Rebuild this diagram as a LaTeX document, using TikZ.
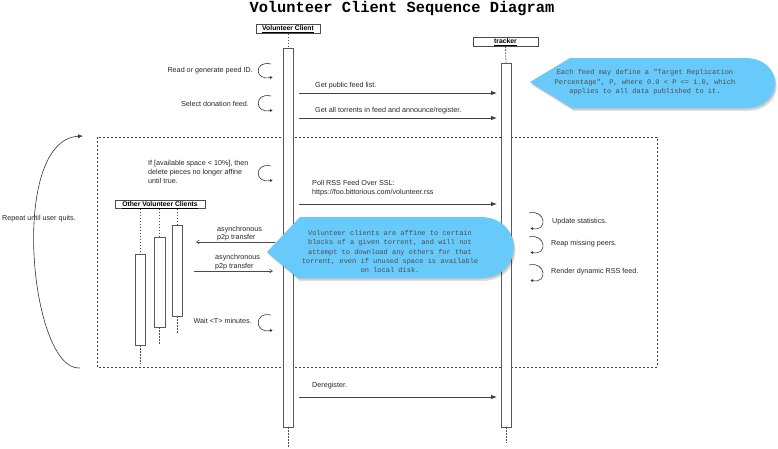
\documentclass[tikz,border=0pt]{standalone}
\usepackage{fontspec}
\setmainfont{Liberation Sans}
\newfontfamily\cmono{Liberation Mono}
\usetikzlibrary{arrows.meta}
\definecolor{calloutblue}{RGB}{104,202,250}
\begin{document}
\begin{tikzpicture}[x=1pt,y=-1pt,
  lbl/.style={font=\fontsize{7.2}{8.6}\selectfont, inner sep=0pt, text=black!85},
  headbox/.style={draw=black!70, line width=0.8pt, fill=white, inner sep=0pt, text height=5.5pt, text depth=2pt, font=\fontsize{6.8}{7}\selectfont\bfseries},
  actbox/.style={draw=black!65, line width=0.9pt, fill=white, inner sep=0pt, minimum width=10pt},
  lifeline/.style={draw=black!70, line width=0.8pt, dash pattern=on 1.5pt off 1.5pt},
  msg/.style={draw=black!75, line width=0.8pt, -{Latex[length=6pt,width=4.5pt]}},
  async/.style={draw=black!70, line width=0.5pt, -{Straight Barb[length=3pt,width=4pt]}},
  selfloop/.style={draw=black!80, line width=0.6pt, -{Latex[length=3pt,width=3pt]}},
  frame/.style={draw=black!75, line width=0.6pt, dash pattern=on 2pt off 2pt},
  callout/.style={fill=calloutblue},
  shadowfill/.style={fill=black, opacity=0.12},
  ctext/.style={font=\cmono\fontsize{7}{9.4}\selectfont, text=black!70, align=center, inner sep=0pt},
  repeatarrow/.style={draw=black!80, line width=0.6pt, -{Latex[length=5pt,width=4pt]}},
]
\useasboundingbox (0,0) rectangle (778,448);

% title
\node[font=\cmono\bfseries\fontsize{15.4}{16}\selectfont, inner sep=0pt] (title) at (402,9) {Volunteer Client Sequence Diagram};

% loop frame
\draw[frame] (97,137) rectangle (657,367);

% heads
\node[headbox, minimum width=64pt, minimum height=8.5pt] (vc) at (288,29) {\underline{Volunteer Client}};
\node[headbox, minimum width=65pt, minimum height=9pt] (tr) at (505.5,41.5) {\underline{tracker}};
\node[headbox, minimum width=90pt, minimum height=7.5pt] (ovc) at (160,204.5) {\underline{Other Volunteer Clients}};

% activation boxes
\node[actbox, minimum height=379pt] (vcA) at (288,237.5) {};
\node[actbox, minimum height=364pt] (trA) at (506,245) {};
\node[actbox, minimum height=91pt] (o1A) at (140,299.5) {};
\node[actbox, minimum height=90pt, minimum width=11pt] (o2A) at (159.5,282) {};
\node[actbox, minimum height=91pt] (o3A) at (177,270.5) {};

% lifelines
\draw[lifeline] (vc.south) -- (vcA.north);
\draw[lifeline] (vcA.south) -- ++(0,21);
\draw[lifeline] (tr.south) -- (trA.north);
\draw[lifeline] (trA.south) -- ++(0,16);
\draw[lifeline] (o1A.north |- ovc.south) -- (o1A.north);
\draw[lifeline] (o2A.north |- ovc.south) -- (o2A.north);
\draw[lifeline] (o3A.north |- ovc.south) -- (o3A.north);
\draw[lifeline] (o1A.south) -- ++(0,19);
\draw[lifeline] (o2A.south) -- ++(0,18);
\draw[lifeline] (o3A.south) -- ++(0,17);

% messages
\coordinate (m1s) at (299,93);  \coordinate (m1e) at (497,93);
\coordinate (m2s) at (299,118); \coordinate (m2e) at (497,118);
\coordinate (m3s) at (299,204); \coordinate (m3e) at (497,204);
\coordinate (m4s) at (299,397); \coordinate (m4e) at (497,397);
\draw[msg] (m1s) -- (m1e);
\draw[msg] (m2s) -- (m2e);
\draw[msg] (m3s) -- (m3e);
\draw[msg] (m4s) -- (m4e);
\node[lbl, anchor=west] (m1l) at (315,86) {Get public feed list.};
\node[lbl, anchor=west] (m2l) at (315,111) {Get all torrents in feed and announce/register.};
\node[lbl, anchor=west, align=left] (m3l) at (312,188) {Poll RSS Feed Over SSL:\\https://foo.bittorious.com/volunteer.rss};
\node[lbl, anchor=west] (m4l) at (312,386) {Deregister.};

% async transfers
\coordinate (a1s) at (275,242); \coordinate (a1e) at (196,242);
\coordinate (a2s) at (194,271); \coordinate (a2e) at (273,271);
\draw[async] (a1s) -- (a1e);
\draw[async] (a2s) -- (a2e);
\node[lbl, anchor=west, align=left] (a1l) at (217,233.5) {asynchronous\\p2p transfer};
\node[lbl, anchor=west, align=left] (a2l) at (215,262) {asynchronous\\p2p transfer};

% client self loops
\coordinate (l1s) at (271,64);  \coordinate (l1e) at (273,77);
\coordinate (l2s) at (271,96);  \coordinate (l2e) at (273,110);
\coordinate (l3s) at (271,166); \coordinate (l3e) at (273,180);
\coordinate (l4s) at (271,315); \coordinate (l4e) at (273,330);
\draw[selfloop] (l1s) .. controls +(-17,-4) and +(-19,4) .. (l1e);
\draw[selfloop] (l2s) .. controls +(-17,-4) and +(-19,4) .. (l2e);
\draw[selfloop] (l3s) .. controls +(-17,-4) and +(-19,4) .. (l3e);
\draw[selfloop] (l4s) .. controls +(-17,-4) and +(-19,4) .. (l4e);
\node[lbl, anchor=east] (l1l) at (253,71) {Read or generate peed ID.};
\node[lbl, anchor=east] (l2l) at (249,104) {Select donation feed.};
\node[lbl, anchor=west, align=left] (l3l) at (148,172) {If [available space < 10\%], then\\delete pieces no longer affine\\until true.};
\node[lbl, anchor=east] (l4l) at (252,321) {Wait <T> minutes.};

% tracker self loops
\coordinate (t1s) at (529,213); \coordinate (t1e) at (530,228);
\coordinate (t2s) at (529,237); \coordinate (t2e) at (530,252);
\coordinate (t3s) at (529,265); \coordinate (t3e) at (530,280);
\draw[selfloop] (t1s) .. controls +(17,-4) and +(18,4) .. (t1e);
\draw[selfloop] (t2s) .. controls +(17,-4) and +(18,4) .. (t2e);
\draw[selfloop] (t3s) .. controls +(17,-4) and +(18,4) .. (t3e);
\node[lbl, anchor=west] (t1l) at (552,222) {Update statistics.};
\node[lbl, anchor=west] (t2l) at (551,244) {Reap missing peers.};
\node[lbl, anchor=west] (t3l) at (551,272) {Render dynamic RSS feed.};

% repeat arrow
\coordinate (rb) at (80,368); \coordinate (rt) at (83,136);
\draw[repeatarrow] (rb) .. controls (30,372) and (8,140) .. (rt);
\node[lbl, anchor=west] (rep) at (2,219) {Repeat until user quits.};

% callout 1
\foreach \s in {1.5,3} {
  \fill[shadowfill, xshift=0.6*\s pt, yshift=-\s pt] (530,82) -- (570,58) -- (745,58) .. controls (785,58) and (785,108) .. (745,108) -- (572,108) -- cycle;
}
\fill[callout] (530,82) -- (570,58) -- (745,58) .. controls (785,58) and (785,108) .. (745,108) -- (572,108) -- cycle;
\node[ctext] (c1) at (645,82.5) {Each feed may define a "Target Replication\\Percentage", P, where 0.0 < P <= 1.0, which\\applies to all data published to it.};

% callout 2
\foreach \s in {1.5,3} {
  \fill[shadowfill, xshift=0.6*\s pt, yshift=-\s pt] (267,252) -- (300,217) -- (480,217) .. controls (525,217) and (525,278) .. (480,278) -- (298,278) -- cycle;
}
\fill[callout] (267,252) -- (300,217) -- (480,217) .. controls (525,217) and (525,278) .. (480,278) -- (298,278) -- cycle;
\node[ctext] (c2) at (390,251.5) {Volunteer clients are affine to certain\\blocks of a given torrent, and will not\\attempt to download any others for that\\torrent, even if unused space is available\\on local disk.};
\end{tikzpicture}
\end{document}
